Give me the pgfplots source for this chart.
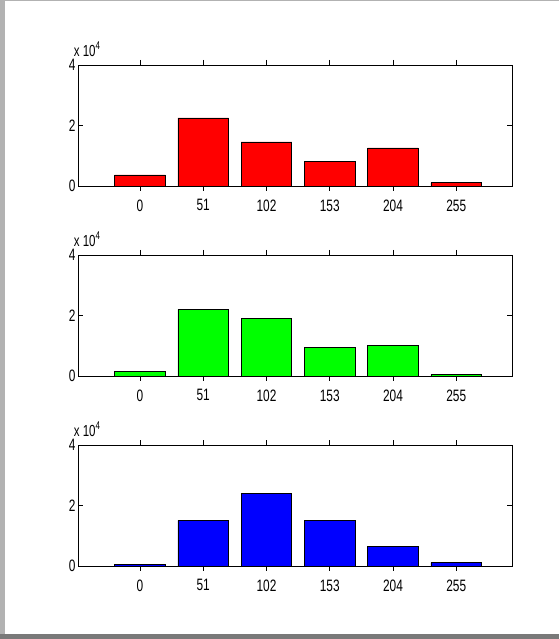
\documentclass[border=0pt]{standalone}
\usepackage{fontspec}
\setmainfont{Liberation Sans}[FakeStretch=0.72]
\usepackage{pgfplots}
\pgfplotsset{compat=1.18}
\pgfplotsset{
  histstyle/.style={
    scale only axis, width=434pt, height=121pt,
    anchor=south west,
    xmin=-50, xmax=300, ymin=0, ymax=40000,
    xtick={0,51,102,153,204,255},
    ytick={0,20000,40000}, yticklabels={0,2,4},
    scaled y ticks=false,
    tick align=inside, major tick length=5pt,
    axis line style={line width=0.8pt}, every tick/.style={line width=0.8pt, black},
    /pgf/number format/assume math mode=true,
    tick label style={font=\fontsize{16.5}{17}\selectfont},
    xticklabel style={yshift=-5pt},
    yticklabel style={xshift=1pt},
    ybar, bar width=40.8, bar shift=0pt,
    clip=false,
  }
}
\begin{document}
\begin{tikzpicture}
\useasboundingbox (0pt,0pt) rectangle (559pt,639pt);
\fill[white] (0pt,0pt) rectangle (559pt,639pt);
\fill[gray!60] (0pt,0pt) rectangle (4.5pt,639pt);
\fill[gray!60] (0pt,637.5pt) rectangle (559pt,639pt);
\fill[gray!95!black] (0pt,0pt) rectangle (559pt,5pt);

\begin{axis}[histstyle, at={(78pt,453pt)}]
\addplot[fill=red, draw=black, line width=0.6pt] coordinates {(0,3650) (51,22540) (102,14590) (153,8180) (204,12600) (255,1100)};
\node[anchor=south west, inner sep=0pt, font=\fontsize{16}{17}\selectfont] at (rel axis cs:-0.01,1.07) {x 10\textsuperscript{4}};
\end{axis}

\begin{axis}[histstyle, at={(78pt,263pt)}]
\addplot[fill=green, draw=black, line width=0.6pt] coordinates {(0,1440) (51,22000) (102,19000) (153,9500) (204,10060) (255,440)};
\node[anchor=south west, inner sep=0pt, font=\fontsize{16}{17}\selectfont] at (rel axis cs:-0.01,1.07) {x 10\textsuperscript{4}};
\end{axis}

\begin{axis}[histstyle, at={(78pt,73pt)}]
\addplot[fill=blue, draw=black, line width=0.6pt] coordinates {(0,550) (51,15100) (102,24100) (153,15100) (204,6600) (255,1100)};
\node[anchor=south west, inner sep=0pt, font=\fontsize{16}{17}\selectfont] at (rel axis cs:-0.01,1.07) {x 10\textsuperscript{4}};
\end{axis}
\end{tikzpicture}
\end{document}
